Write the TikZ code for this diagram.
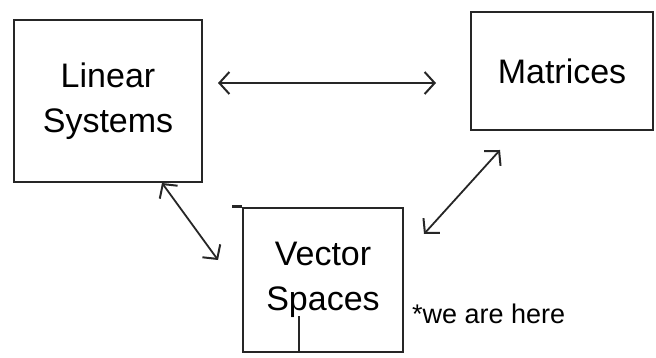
\documentclass[tikz,border=0pt]{standalone}
\usepackage{fontspec}
\setmainfont{Liberation Sans}
\usetikzlibrary{arrows.meta}
\begin{document}
\begin{tikzpicture}[x=1pt,y=-1pt,
  box/.style={draw=black!85, line width=2.6pt, minimum width=#1, inner sep=0pt, align=center,
    font=\fontsize{34}{45}\selectfont},
  link/.style={draw=black!85, line width=1.8pt, line cap=round, {Straight Barb[length=10pt,width=22pt,line width=2pt]}-{Straight Barb[length=10pt,width=22pt,line width=2pt]}},
  note/.style={font=\fontsize{27}{30}\selectfont, inner sep=0pt}]
\useasboundingbox (0,0) rectangle (656,358);
\node[box=188pt, minimum height=162pt] (lin) at (108,101) {Linear\\Systems};
\node[box=182pt, minimum height=118pt] (mat) at (562,71) {Matrices};
\node[box=160pt, minimum height=144pt] (vec) at (323,280) {Vector\\Spaces};
\node[note, anchor=west] (here) at (412,314) {*we are here};
\coordinate (lm1) at (218,83);
\coordinate (lm2) at (436,83);
\coordinate (lv1) at (162,183);
\coordinate (lv2) at (218,260);
\coordinate (mv1) at (500,150);
\coordinate (mv2) at (424,234);
\coordinate (stem) at (299,316);
\draw[link] (lm1) -- (lm2);
\draw[link] (lv1) -- (lv2);
\draw[link] (mv2) -- (mv1);
\draw[draw=black!85, line width=2.6pt] (vec.north west) -- ++(-10,0);
\draw[draw=black!85, line width=2pt] (stem) -- (vec.south -| stem);
\end{tikzpicture}
\end{document}
